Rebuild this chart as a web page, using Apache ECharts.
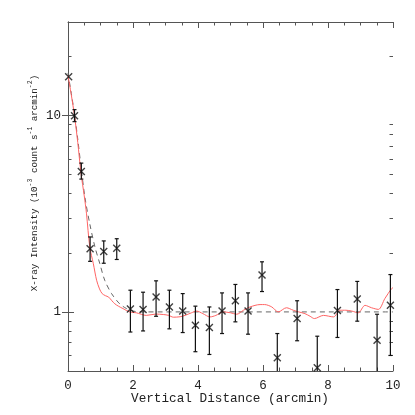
<!DOCTYPE html>
<html>
<head>
<meta charset="utf-8">
<title>X-ray profile</title>
<script src="https://cdn.jsdelivr.net/npm/echarts@6.0.0/dist/echarts.min.js"></script>
<style>
  html, body { margin: 0; padding: 0; background: #fff; }
  #chart { width: 415px; height: 415px; }
</style>
</head>
<body>
<div id="chart"></div>
<script>
// measured points (arcmin, 1e-3 count s-1 arcmin-2)
const xPts = [0.02, 0.2, 0.41, 0.68, 1.1, 1.5, 1.92, 2.31, 2.71, 3.12, 3.53, 3.92,
  4.35, 4.74, 5.15, 5.54, 5.97, 6.44, 7.05, 7.67, 8.29, 8.9, 9.51, 9.92]
const yPts = [15.8, 10.0, 5.2, 2.1, 2.03, 2.11, 1.035, 1.03, 1.19, 1.06, 1.01, 0.855,
  0.833, 1.01, 1.14, 1.01, 1.54, 0.584, 0.925, 0.52, 1.016, 1.164, 0.718, 1.08]
const yLo = [15.8, 9.32, 4.75, 1.81, 1.77, 1.85, 0.79, 0.80, 0.95, 0.82, 0.785, 0.627,
  0.607, 0.776, 0.89, 0.77, 1.27, 0.40, 0.713, 0.35, 0.741, 0.897, 0.40, 0.60]
const yHi = [15.8, 10.73, 5.73, 2.41, 2.30, 2.36, 1.29, 1.26, 1.44, 1.29, 1.24, 1.07,
  1.06, 1.25, 1.38, 1.25, 1.80, 0.776, 1.14, 0.752, 1.30, 1.43, 0.973, 1.55]

// red curve
const modelX = [0, 0.1, 0.2, 0.3, 0.4, 0.5, 0.57, 0.67, 0.78, 0.88, 0.97, 1.05, 1.15, 1.25, 1.35, 1.44,
  1.55, 1.69, 1.9, 2.1, 2.41, 2.7, 2.93, 3.1, 3.24, 3.45, 3.6, 3.8, 3.96, 4.15, 4.37, 4.55,
  4.78, 5.0, 5.19, 5.4, 5.6, 5.91, 6.05, 6.27, 6.47, 6.72, 6.93, 7.1, 7.29, 7.45, 7.58,
  7.86, 8.17, 8.37, 8.55, 8.73, 8.93, 9.14, 9.34, 9.55, 9.75, 9.95, 10]
const modelY = [16.0, 12.8, 10.0, 7.3, 5.1, 3.9, 3.16, 2.14, 1.76, 1.45, 1.31, 1.24, 1.21, 1.19, 1.14, 1.10,
  1.07, 1.04, 1.0, 0.99, 0.96, 0.975, 0.97, 0.96, 0.94, 0.945, 0.96, 0.99, 1.01, 0.98, 0.943, 0.96,
  1.0, 0.99, 0.973, 1.02, 1.06, 1.09, 1.09, 1.06, 1.0, 1.05, 1.02, 1.0, 0.98, 0.95, 0.925,
  0.96, 0.943, 1.02, 1.02, 1.01, 0.99, 1.08, 1.05, 1.03, 1.17, 1.31, 1.33]

// dashed curve
const fitX = [0, 0.1, 0.2, 0.3, 0.4, 0.52, 0.67, 0.83, 0.98, 1.13, 1.34, 1.59, 1.8, 2.0, 2.3, 10]
const fitY = [16.5, 13.0, 10.2, 7.6, 5.5, 3.84, 2.81, 2.14, 1.76, 1.45, 1.24, 1.10, 1.04, 1.01, 1.0, 1.0]

const yMajor = [1, 10]
const yMinor = [0.5, 0.6, 0.7, 0.8, 0.9, 2, 3, 4, 5, 6, 7, 8, 9, 20, 30]

const font = 'Liberation Mono'
const ink = '#222'
const frame = '#555'

const chart = echarts.init(document.getElementById('chart'))

const gridBox = { left: 68, right: 22, top: 22, bottom: 44 }

function xAxisOf (gridIndex, position, showLabel) {
  return {
    type: 'value',
    gridIndex,
    position,
    min: 0,
    max: 10,
    interval: 2,
    axisLine: { lineStyle: { color: frame, width: 1 } },
    axisTick: { inside: true, length: 6, lineStyle: { color: frame } },
    minorTick: { show: true, splitNumber: 4, length: 3.5, lineStyle: { color: frame } },
    axisLabel: { show: showLabel, margin: 8, color: ink, fontFamily: font, fontSize: 12.5 },
    splitLine: { show: false },
    minorSplitLine: { show: false }
  }
}

function yAxisOf (gridIndex, position, ticks, len, showLabel) {
  return {
    type: 'log',
    logBase: 10,
    gridIndex,
    position,
    min: 0.5,
    max: 30,
    axisLine: { show: gridIndex === 0, lineStyle: { color: frame, width: 1 } },
    axisTick: { inside: true, length: len, customValues: ticks, lineStyle: { color: frame } },
    axisLabel: {
      show: showLabel,
      customValues: yMajor,
      margin: 7,
      color: ink,
      fontFamily: font,
      fontSize: 12.5,
      formatter: v => String(v)
    },
    splitLine: { show: false }
  }
}

const option = {
  animation: false,
  backgroundColor: '#fff',
  grid: [Object.assign({}, gridBox), Object.assign({}, gridBox)],
  xAxis: [
    xAxisOf(0, 'bottom', true),
    xAxisOf(0, 'top', false),
    Object.assign(xAxisOf(1, 'bottom', false), { show: false })
  ],
  yAxis: [
    yAxisOf(0, 'left', yMajor, 6, true),
    yAxisOf(0, 'right', yMajor, 6, false),
    yAxisOf(1, 'left', yMinor, 3.5, false),
    yAxisOf(1, 'right', yMinor, 3.5, false)
  ],
  graphic: [
    {
      type: 'text',
      x: 230,
      y: 399,
      style: {
        text: 'Vertical Distance (arcmin)',
        fill: ink,
        font: '12.7px "Liberation Mono"',
        align: 'center',
        verticalAlign: 'middle'
      }
    },
    {
      type: 'text',
      x: 33,
      y: 183,
      rotation: Math.PI / 2,
      style: {
        text: '{n|X-ray Intensity (10}{s|-3}{n| count s}{s|-1}{n| arcmin}{s|-2}{n|)}',
        align: 'center',
        verticalAlign: 'middle',
        fill: ink,
        rich: {
          n: { fontFamily: font, fontSize: 9.2, lineHeight: 13, verticalAlign: 'bottom', fill: ink },
          s: { fontFamily: font, fontSize: 6.5, lineHeight: 8, verticalAlign: 'top', fill: ink }
        }
      }
    }
  ],
  series: [
    {
      type: 'line',
      name: 'model',
      xAxisIndex: 0,
      yAxisIndex: 0,
      data: modelX.map((x, i) => [x, modelY[i]]),
      showSymbol: false,
      smooth: 0.3,
      lineStyle: { color: '#ff6464', width: 1 },
      z: 3
    },
    {
      type: 'line',
      name: 'fit',
      xAxisIndex: 0,
      yAxisIndex: 0,
      data: fitX.map((x, i) => [x, fitY[i]]),
      showSymbol: false,
      smooth: 0.3,
      lineStyle: { color: '#666', width: 1, type: [5, 4] },
      z: 2
    },
    {
      type: 'custom',
      name: 'errors',
      xAxisIndex: 0,
      yAxisIndex: 0,
      data: xPts.map((x, i) => [x, yLo[i], yHi[i]]),
      encode: { x: 0, y: [1, 2] },
      renderItem (params, api) {
        const x = api.value(0)
        const lo = api.value(1)
        const hi = api.value(2)
        if (lo === hi) return
        const top = api.coord([x, hi])
        const bot = api.coord([x, lo])
        const cs = params.coordSys
        const yMax = cs.y + cs.height
        const st = { stroke: '#111', lineWidth: 1.2 }
        const children = [
          { type: 'line', shape: { x1: top[0], y1: top[1], x2: top[0], y2: Math.min(bot[1], yMax) }, style: st },
          { type: 'line', shape: { x1: top[0] - 2, y1: top[1], x2: top[0] + 2, y2: top[1] }, style: st }
        ]
        if (bot[1] <= yMax) {
          children.push({ type: 'line', shape: { x1: bot[0] - 2, y1: bot[1], x2: bot[0] + 2, y2: bot[1] }, style: st })
        }
        return { type: 'group', children }
      },
      z: 4
    },
    {
      type: 'scatter',
      name: 'data',
      xAxisIndex: 0,
      yAxisIndex: 0,
      data: xPts.map((x, i) => [x, yPts[i]]),
      symbol: 'path://M0 0L10 10M10 0L0 10',
      symbolSize: 7,
      itemStyle: { color: 'transparent', borderColor: '#111', borderWidth: 1.4 },
      z: 5
    }
  ]
}

chart.setOption(option)
</script>
</body>
</html>
